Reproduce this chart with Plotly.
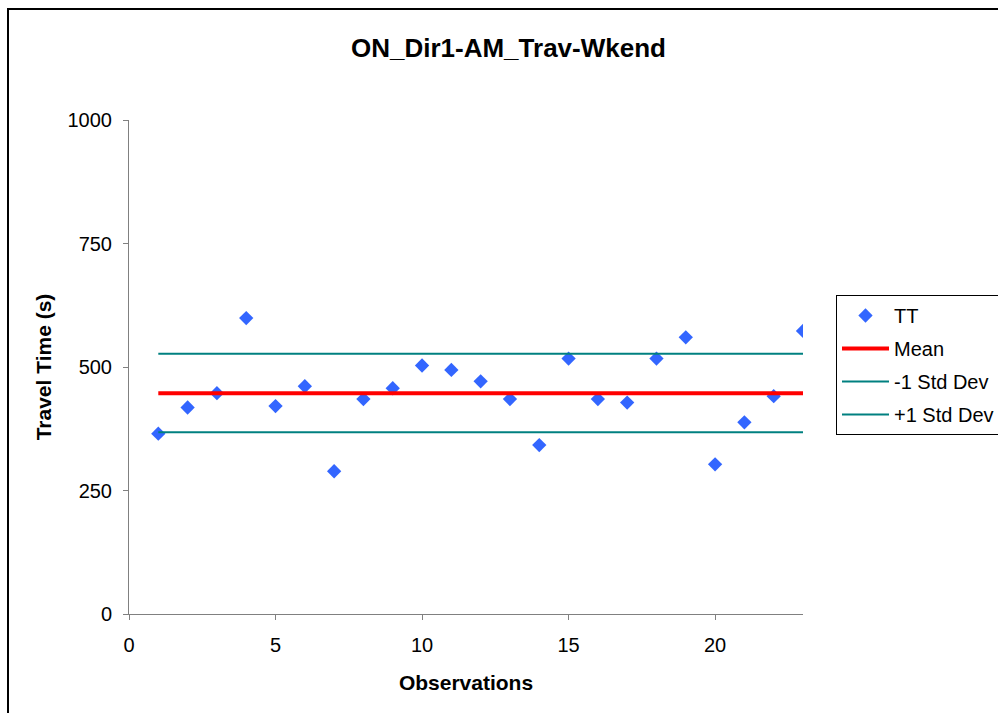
import plotly.graph_objects as go

# ---- data ----
observations = list(range(1, 24))
travel_time = [365, 418, 447, 599, 421, 461, 289, 435, 457, 503, 494, 471,
               435, 342, 517, 435, 428, 517, 560, 303, 388, 441, 573]
mean_value = 447
minus_1_std = 368
plus_1_std = 527

y_ticks = [0, 250, 500, 750, 1000]
x_ticks = [0, 5, 10, 15, 20]

title_text = "ON_Dir1-AM_Trav-Wkend"
x_title = "Observations"
y_title = "Travel Time (s)"

FONT = "Arial, 'Liberation Sans', sans-serif"

line_x = [observations[0], observations[-1]]

fig = go.Figure()
fig.add_trace(go.Scatter(
    x=observations, y=travel_time, mode="markers", name="TT",
    marker=dict(symbol="diamond", size=11, color="#3366FF"),
    legendgroup="a"))
fig.add_trace(go.Scatter(
    x=line_x, y=[mean_value, mean_value], mode="lines", name="Mean",
    line=dict(color="#FF0000", width=4), legendgroup="b"))
fig.add_trace(go.Scatter(
    x=line_x, y=[minus_1_std, minus_1_std], mode="lines", name="-1 Std Dev",
    line=dict(color="#008080", width=2), legendgroup="c"))
fig.add_trace(go.Scatter(
    x=line_x, y=[plus_1_std, plus_1_std], mode="lines", name="+1 Std Dev",
    line=dict(color="#008080", width=2), legendgroup="d"))

axis_common = dict(
    showgrid=False, zeroline=False, showline=True, linecolor="#808080",
    linewidth=1, ticks="outside", ticklen=5, tickcolor="#808080",
    tickfont=dict(family=FONT, size=20, color="black"),
)

fig.update_layout(
    width=998, height=713,
    paper_bgcolor="white", plot_bgcolor="white",
    margin=dict(l=129, r=195, t=120, b=99, autoexpand=False),
    font=dict(family=FONT, color="black"),
    title=dict(text="<b>" + title_text + "</b>", x=0.5095, xref="container",
               xanchor="center", y=1 - 47.8 / 713, yref="container",
               yanchor="middle", font=dict(family=FONT, size=26, color="black")),
    xaxis=dict(range=[0, 23], tickvals=x_ticks, ticklabelstandoff=8,
               title=dict(text="<b>" + x_title + "</b>", standoff=20,
                          font=dict(family=FONT, size=21, color="black")),
               **axis_common),
    yaxis=dict(range=[0, 1000], tickvals=y_ticks, ticklabelstandoff=7,
               title=dict(text="<b>" + y_title + "</b>", standoff=10,
                          font=dict(family=FONT, size=21, color="black")),
               **axis_common),
    legend=dict(x=(836 - 129) / 674, xanchor="left", y=(614 - 295) / 494,
                yanchor="top", bordercolor="black", borderwidth=1,
                bgcolor="white", font=dict(family=FONT, size=20, color="black"),
                tracegroupgap=4, itemwidth=47),
    showlegend=True,
)

# outer chart-area border (continues past right and bottom edges)
fig.add_shape(type="rect", xref="paper", yref="paper",
              x0=(8 - 129) / 674, x1=1.6, y0=-0.5, y1=(614 - 9) / 494,
              line=dict(color="black", width=2), fillcolor="rgba(0,0,0,0)",
              layer="below")

fig.write_html("out.html",
               config={"displayModeBar": False},
               post_script="document.body.style.margin='0';"
                           "document.body.style.overflow='hidden';")
